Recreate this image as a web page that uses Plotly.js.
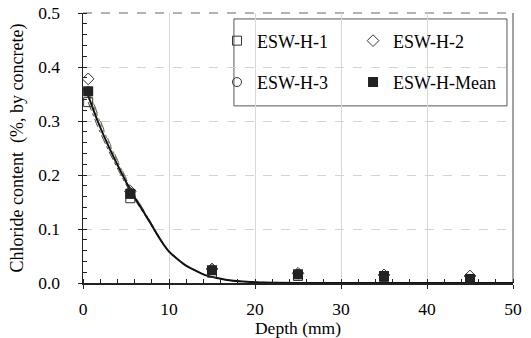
<!DOCTYPE html>
<html>
<head>
<meta charset="utf-8">
<script src="https://cdn.plot.ly/plotly-3.0.1.min.js"></script>
<style>
html,body{margin:0;padding:0;background:#fff;}
#chart{width:531px;height:338px;}
</style>
</head>
<body>
<div id="chart"></div>
<script>
// Measured data (depth in mm, chloride content in % by concrete)
const depth = [0.6, 5.5, 15, 25, 35, 45];
const esw1 = [0.335, 0.157, 0.019, 0.013, 0.011, 0.006];
const esw2 = [0.378, 0.170, 0.026, 0.018, 0.015, 0.013];
const esw3 = [0.355, 0.167, 0.025, 0.017, 0.013, 0.0075];
const eswMean = [0.355, 0.165, 0.0236, 0.016, 0.013, 0.0075];

// Fitted curves
const depthFit = [0.6, 1.7, 3.0, 4.5, 5.8, 7.5, 9.0, 10.0, 11.8, 14.2, 17.0, 20.0, 25.0, 30.0, 40.0, 50.0];
const fitMean = [0.347, 0.300, 0.252, 0.203, 0.164, 0.120, 0.080, 0.058, 0.034, 0.0145, 0.005, 0.0015, 0.0002, 0, 0, 0];
const fit1 = [0.335, 0.290, 0.244, 0.197, 0.160, 0.118, 0.079, 0.058, 0.034, 0.0145, 0.005, 0.0015, 0.0002, 0, 0, 0];
const fit2 = [0.362, 0.313, 0.263, 0.211, 0.169, 0.123, 0.082, 0.059, 0.034, 0.0145, 0.005, 0.0015, 0.0002, 0, 0, 0];
const fit3 = [0.357, 0.309, 0.260, 0.209, 0.168, 0.122, 0.081, 0.059, 0.034, 0.0145, 0.005, 0.0015, 0.0002, 0, 0, 0];

const names = ['ESW-H-1', 'ESW-H-2', 'ESW-H-3', 'ESW-H-Mean'];
const xTitle = 'Depth (mm)';
const yTitle = 'Chloride content  (%, by concrete)';

const FONT = 'Liberation Serif';

const fitLine = (y, style) => ({
  x: depthFit, y: y, type: 'scatter', mode: 'lines', showlegend: false, hoverinfo: 'skip',
  line: Object.assign({shape: 'spline', smoothing: 0.5}, style)
});

const traces = [
  fitLine(fit1, {color: '#444444', width: 1, dash: 'dashdot'}),
  fitLine(fit2, {color: '#555555', width: 1, dash: 'dash'}),
  fitLine(fit3, {color: '#7f8250', width: 1.2, dash: 'dot'}),
  fitLine(fitMean, {color: '#111111', width: 2}),
  {x: depth, y: esw1, name: names[0], type: 'scatter', mode: 'markers', legend: 'legend', legendgroup: 'a',
   marker: {symbol: 'square-open', size: 9, color: '#333333', line: {width: 1}}},
  {x: depth, y: esw3, name: names[2], type: 'scatter', mode: 'markers', legend: 'legend', legendgroup: 'c',
   marker: {symbol: 'circle-open', size: 9, color: '#333333', line: {width: 1}}},
  {x: depth, y: esw2, name: names[1], type: 'scatter', mode: 'markers', legend: 'legend2', legendgroup: 'b',
   marker: {symbol: 'diamond-open', size: 9, color: '#333333', line: {width: 1}}},
  {x: depth, y: eswMean, name: names[3], type: 'scatter', mode: 'markers', legend: 'legend2', legendgroup: 'd',
   marker: {symbol: 'square', size: 10, color: '#222222'}},
  {x: [], y: [], xaxis: 'x2', yaxis: 'y2', showlegend: false, type: 'scatter', mode: 'markers'}
];

const legendCommon = {
  font: {family: FONT, size: 18, color: '#000'},
  bgcolor: 'rgba(0,0,0,0)', borderwidth: 0,
  traceorder: 'grouped', tracegroupgap: 15,
  xanchor: 'left', yanchor: 'top', yref: 'paper', xref: 'paper', itemclick: false
};

const layout = {
  width: 531, height: 338,
  margin: {l: 83, r: 18, t: 13, b: 55},
  paper_bgcolor: '#fff', plot_bgcolor: '#fff',
  font: {family: FONT, size: 17.5, color: '#000'},
  xaxis: {
    range: [0, 50], dtick: 10, tick0: 0,
    showline: true, linecolor: '#222', linewidth: 1.5,
    ticks: 'outside', ticklen: 4, tickcolor: '#222', tickwidth: 1,
    tickfont: {family: FONT, size: 17.5},
    minor: {dtick: 2, ticks: 'inside', ticklen: 4, tickcolor: '#222', showgrid: false},
    showgrid: true, gridcolor: '#d9d9d9', gridwidth: 1,
    zeroline: false, ticklabelstandoff: 5,
    title: {text: xTitle, font: {family: FONT, size: 17.5}, standoff: 0}
  },
  yaxis: {
    range: [0, 0.5], dtick: 0.1, tick0: 0, tickformat: '.1f',
    showline: true, linecolor: '#222', linewidth: 1.5,
    ticks: 'outside', ticklen: 4, tickcolor: '#222', tickwidth: 1,
    tickfont: {family: FONT, size: 17.5},
    minor: {dtick: 0.02, ticks: 'inside', ticklen: 4, tickcolor: '#222', showgrid: false},
    showgrid: true, gridcolor: '#d4d4d4', gridwidth: 1, griddash: 'dash',
    zeroline: false, ticklabelstandoff: 14,
    title: {text: yTitle, font: {family: FONT, size: 18}, standoff: 10}
  },
  xaxis2: {range: [0, 50], overlaying: 'x', anchor: 'y2', dtick: 10, tick0: 0, ticks: 'inside', ticklen: 4,
           tickcolor: '#222', showticklabels: false, showgrid: false, zeroline: false, showline: false},
  yaxis2: {range: [0, 0.5], overlaying: 'y', anchor: 'x2', dtick: 0.1, tick0: 0, ticks: 'inside', ticklen: 4,
           tickcolor: '#222', showticklabels: false, showgrid: false, zeroline: false, showline: false},
  legend: Object.assign({x: 0.3116, y: 0.965}, legendCommon),
  legend2: Object.assign({x: 0.628, y: 0.965}, legendCommon),
  shapes: [
    {type: 'rect', xref: 'paper', yref: 'paper', x0: 0.351, x1: 0.986, y0: 0.656, y1: 0.978,
     fillcolor: '#fff', line: {color: '#555', width: 1}, layer: 'between'},
    {type: 'line', xref: 'paper', yref: 'paper', x0: 0, x1: 1, y0: 1, y1: 1,
     line: {color: '#666', width: 1, dash: 'dash'}, layer: 'below'},
    {type: 'line', xref: 'paper', yref: 'paper', x0: 1, x1: 1, y0: 0, y1: 1,
     line: {color: '#444', width: 1}, layer: 'below'}
  ]
};

Plotly.newPlot('chart', traces, layout, {displayModeBar: false, staticPlot: true});
</script>
</body>
</html>
